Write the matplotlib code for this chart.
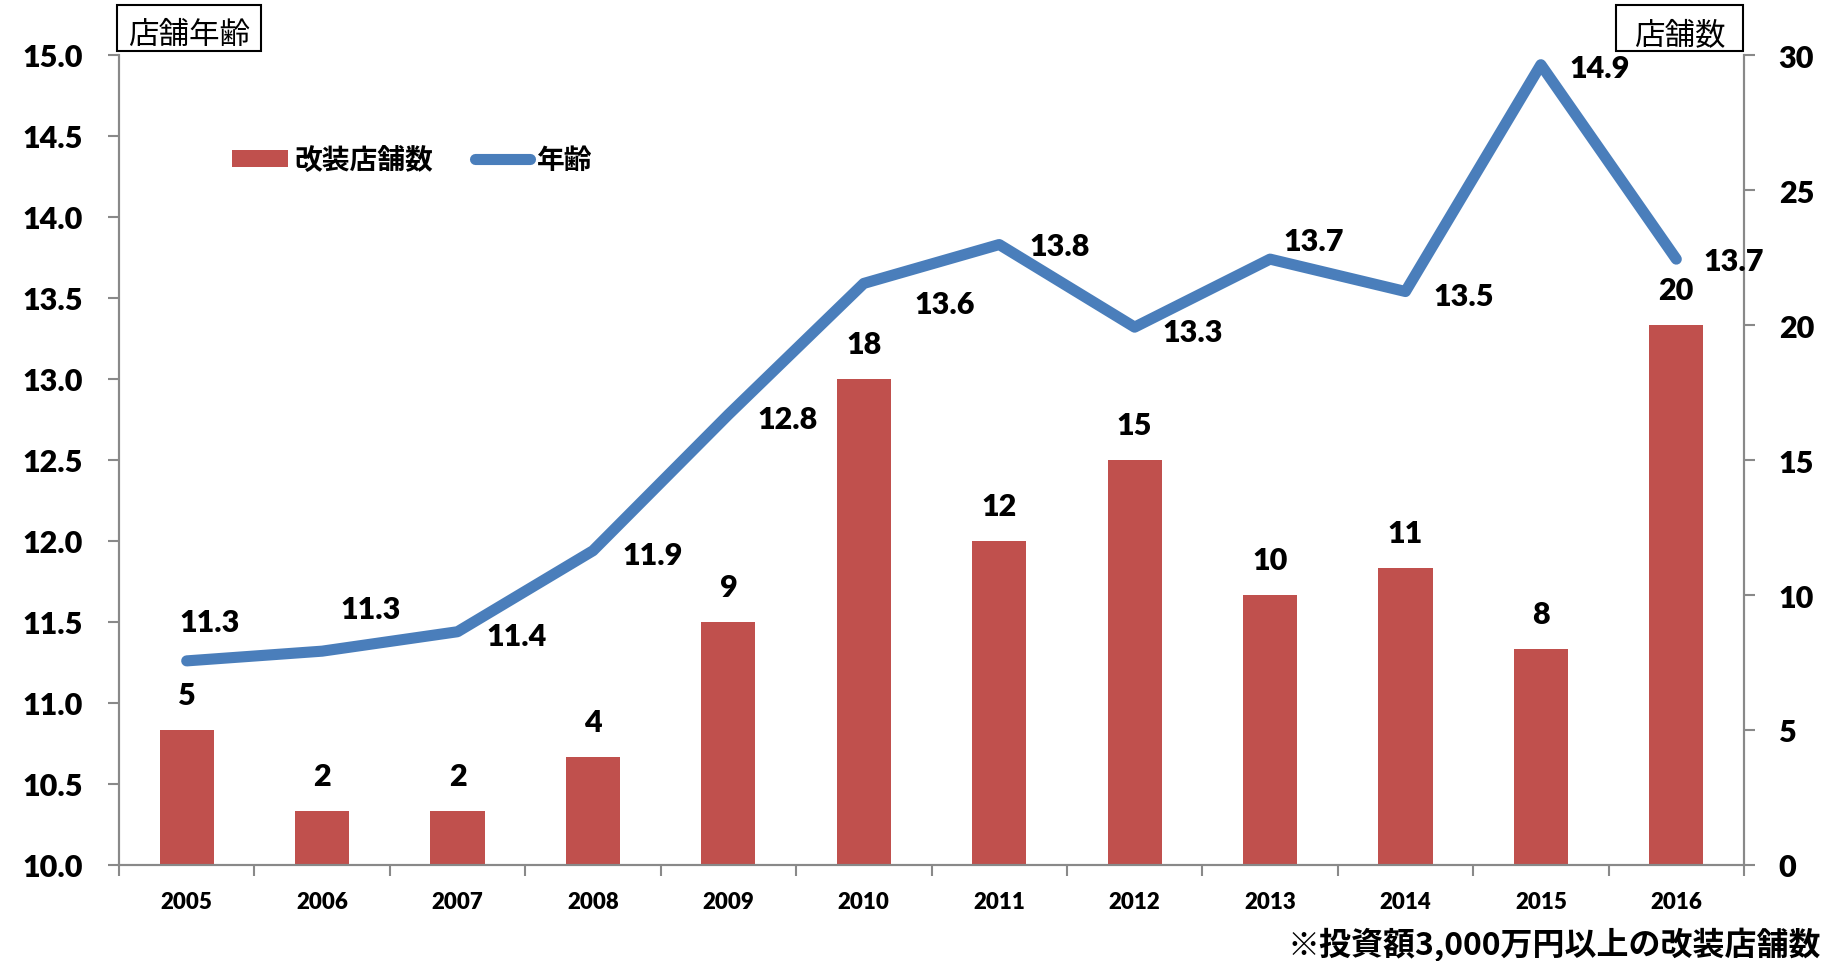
import matplotlib
matplotlib.use('Agg')
import matplotlib.pyplot as plt
from matplotlib.lines import Line2D
from matplotlib.patches import Patch, Rectangle
import numpy as np

years = ['2005', '2006', '2007', '2008', '2009', '2010', '2011', '2012', '2013', '2014', '2015', '2016']
stores = [5, 2, 2, 4, 9, 18, 12, 15, 10, 11, 8, 20]
age = [11.26, 11.32, 11.44, 11.94, 12.78, 13.59, 13.83, 13.32, 13.74, 13.54, 14.94, 13.74]
age_labels = [f"{v:.1f}" for v in age]
left_ticks = [10.0, 10.5, 11.0, 11.5, 12.0, 12.5, 13.0, 13.5, 14.0, 14.5, 15.0]
right_ticks = [0, 5, 10, 15, 20, 25, 30]

# label offsets (pixels, dx, dy-up)
age_offsets = [(23, 39), (49, 42), (59, -4), (60, -4), (59, -4), (81, -21),
               (60, -1), (58, -5), (44, 18), (58, -4), (59, -3), (57, -2)]

BAR = '#C0504D'
LINE = '#4A7EBB'
GRAY = '#898989'
NUM = 'Lato'
NUMW = 'heavy'
CJK = ['Noto Sans CJK JP', 'DejaVu Sans']

W, H = 1836, 962
fig = plt.figure(figsize=(W / 100, H / 100), dpi=100)
L, R, T, B = 119, 1744, 56, 866
ax = fig.add_axes([L / W, 1 - B / H, (R - L) / W, (B - T) / H])
ax2 = ax.twinx()
ax.set_zorder(ax2.get_zorder() + 1)
ax.patch.set_visible(False)

x = np.arange(len(years))

# bars on right axis
ax2.bar(x, stores, width=0.4, color=BAR, zorder=2)
ax2.set_ylim(0, 30)
ax2.set_yticks(right_ticks)
ax2.set_yticklabels([str(t) for t in right_ticks], fontfamily=NUM, fontweight=NUMW, fontsize=22)
for xi, v in zip(x, stores):
    ax2.annotate(str(v), (xi, v), xytext=(0, 35 * 0.72), textcoords='offset points',
                 ha='center', va='center', fontfamily=NUM, fontweight=NUMW, fontsize=22)

# line on left axis
ax.plot(x, age, color=LINE, lw=8, solid_capstyle='round', solid_joinstyle='round', zorder=3)
ax.set_ylim(10, 15)
ax.set_yticks(left_ticks)
ax.set_yticklabels([f"{t:.1f}" for t in left_ticks], fontfamily=NUM, fontweight=NUMW, fontsize=22)
for xi, v, s, (dx, dy) in zip(x, age, age_labels, age_offsets):
    ax.annotate(s, (xi, v), xytext=(dx * 0.72, dy * 0.72), textcoords='offset points',
                ha='center', va='center', fontfamily=NUM, fontweight=NUMW, fontsize=22, zorder=4)

ax.set_xlim(-0.5, len(years) - 0.5)
ax.set_xticks(x)
ax.set_xticklabels(years, fontfamily=NUM, fontweight=NUMW, fontsize=16)
ax.set_xticks(np.arange(-0.5, len(years), 1), minor=True)
ax.tick_params(axis='x', which='major', length=0, pad=19)
ax.tick_params(axis='x', which='minor', length=8, width=1.5, color=GRAY, direction='out')
ax.tick_params(axis='y', length=8, width=1.5, color=GRAY, direction='out', pad=18)
ax2.tick_params(axis='y', length=8, width=1.5, color=GRAY, direction='out', pad=17)

for a in (ax, ax2):
    a.spines['top'].set_visible(False)
    for s in ('left', 'right', 'bottom'):
        a.spines[s].set_color(GRAY)
        a.spines[s].set_linewidth(1.5)

# legend
handles = [Patch(facecolor=BAR, edgecolor='none'),
           Line2D([0], [0], color=LINE, lw=8, solid_capstyle='round')]
leg = fig.legend(handles, ['改装店舗数', '年齢'], loc='center left',
                 bbox_to_anchor=(232 / W, 1 - 161 / H), ncol=2, frameon=False,
                 borderpad=0, borderaxespad=0, handlelength=2.0, handleheight=0.55,
                 handletextpad=0.25, columnspacing=1.5,
                 prop={'family': CJK, 'weight': 'bold', 'size': 20})

# boxed axis titles
def box(x0, y0, x1, y1, text):
    fig.patches.append(Rectangle((x0 / W, 1 - y1 / H), (x1 - x0) / W, (y1 - y0) / H,
                                 transform=fig.transFigure, fill=False, edgecolor='black',
                                 linewidth=1.5, figure=fig))
    fig.text((x0 + x1) / 2 / W, 1 - ((y0 + y1) / 2 + 7) / H, text, ha='center', va='center',
             fontfamily=CJK, fontsize=22)

box(117, 6, 261, 52, '店舗年齢')
box(1616, 6, 1743, 52, '店舗数')

fig.text(1821 / W, 1 - 945 / H, '※投資額3,000万円以上の改装店舗数', ha='right', va='center',
         fontfamily=CJK, fontweight='bold', fontsize=23)

fig.savefig('out.png', dpi=100)
